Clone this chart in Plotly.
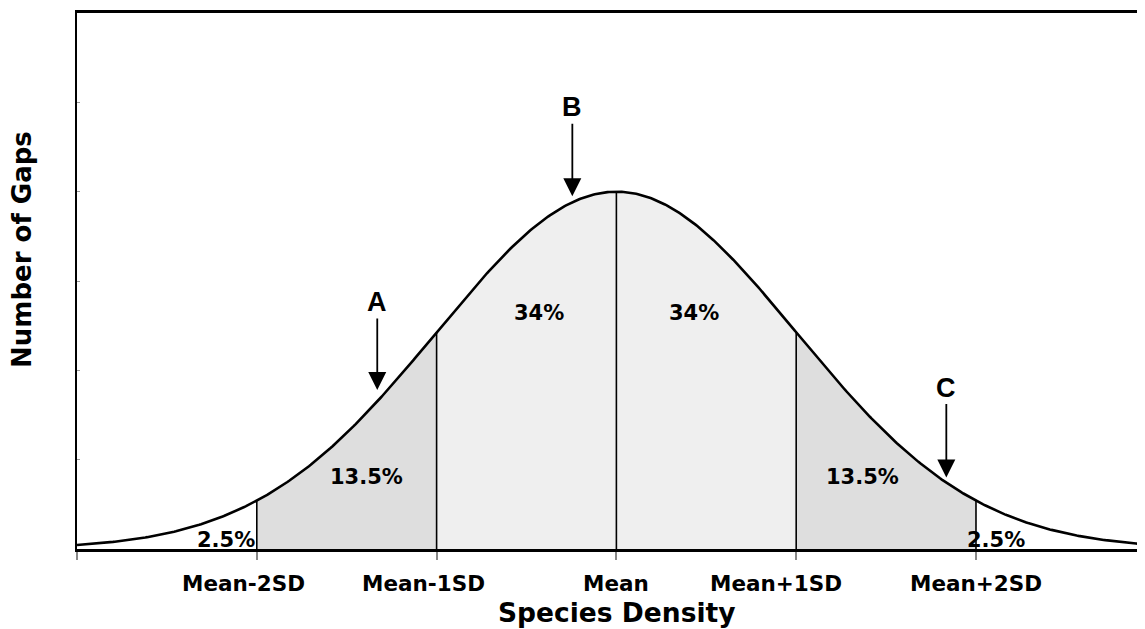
import numpy as np
import plotly.graph_objects as go

# ---- data ----
peak_height = 4.0                     # curve peak in y-units (axis 0..6)
sd_marks = [-2, -1, 0, 1, 2]          # vertical divider lines
axis_ticks = [-3, -2, -1, 0, 1, 2]
tick_labels = ["Mean-2SD", "Mean-1SD", "Mean", "Mean+1SD", "Mean+2SD"]
tick_label_x = [-2, -1, 0, 1, 2]
tick_label_shift = [-13, -13, 0, -20, 0]
band_edges = [(-2, -1), (-1, 0), (0, 1), (1, 2)]
band_colors = ["#dedede", "#efefef", "#efefef", "#dedede"]
pct_text = ["2.5%", "13.5%", "34%", "34%", "13.5%", "2.5%"]
pct_x = [-2.17, -1.39, -0.43, 0.43, 1.37, 2.11]
pct_y = [0.10, 0.81, 2.64, 2.64, 0.81, 0.10]
arrow_labels = ["A", "B", "C"]
arrow_x = [-1.33, -0.245, 1.835]
arrow_tip_y = [1.78, 3.95, 0.80]
arrow_len = [-88, -89, -90]


def curve(x):
    return peak_height * np.exp(-np.asarray(x, dtype=float) ** 2 / 2)


xs = np.linspace(-3, 3, 601)
fig = go.Figure()

# shaded bands
for (a, b), col in zip(band_edges, band_colors):
    bx = np.linspace(a, b, 120)
    px = np.concatenate([[a], bx, [b]])
    py = np.concatenate([[0], curve(bx), [0]])
    fig.add_trace(go.Scatter(x=px, y=py, fill="toself", fillcolor=col,
                             line=dict(width=0), mode="lines",
                             hoverinfo="skip", showlegend=False))

# vertical dividers
for m in sd_marks:
    fig.add_trace(go.Scatter(x=[m, m], y=[0, float(curve(m))], mode="lines",
                             line=dict(color="black", width=1.6),
                             hoverinfo="skip", showlegend=False))

# curve
fig.add_trace(go.Scatter(x=xs, y=curve(xs), mode="lines",
                         line=dict(color="black", width=2.6),
                         showlegend=False))

ann = []
font_lbl = dict(family="DejaVu Sans", size=21, color="black", weight="bold")
for t, x, y in zip(pct_text, pct_x, pct_y):
    ann.append(dict(x=x, y=y, text=t, showarrow=False, font=font_lbl,
                    xanchor="center", yanchor="middle"))

for t, x, y, L in zip(arrow_labels, arrow_x, arrow_tip_y, arrow_len):
    ann.append(dict(x=x, y=y, text=t, showarrow=True, ax=0, ay=L,
                    arrowhead=2, arrowsize=2.0, arrowwidth=1.8,
                    arrowcolor="black", standoff=0,
                    font=dict(family="Liberation Sans", size=27,
                              color="black", weight="bold")))

for t, x, s in zip(tick_labels, tick_label_x, tick_label_shift):
    ann.append(dict(x=x, xref="x", y=0, yref="paper", yshift=-34, xshift=s,
                    text=t, showarrow=False, yanchor="middle",
                    font=dict(family="DejaVu Sans", size=21.5,
                              color="black", weight="bold")))

ann.append(dict(x=0, xref="x", y=0, yref="paper", yshift=-63,
                text="Species Density", showarrow=False, yanchor="middle",
                font=dict(family="DejaVu Sans", size=26.5, color="black",
                          weight="bold")))
ann.append(dict(x=0, xref="paper", xshift=-55, y=0.558, yref="paper",
                text="Number of Gaps", showarrow=False, textangle=-90,
                xanchor="center", yanchor="middle",
                font=dict(family="DejaVu Sans", size=26, color="black",
                          weight="bold")))

fig.update_layout(
    width=1137, height=621,
    margin=dict(l=69, r=0, t=5, b=80),
    paper_bgcolor="white", plot_bgcolor="white",
    annotations=ann,
    xaxis=dict(range=[-3, 2.94], showgrid=False, zeroline=False,
               showline=True, linecolor="black", linewidth=2.5, mirror=True,
               tickvals=axis_ticks, ticktext=[""] * len(axis_ticks),
               ticks="outside", ticklen=8, tickwidth=1.5, tickcolor="#888888"),
    yaxis=dict(range=[0, 6], showgrid=False, zeroline=False,
               showline=True, linecolor="black", linewidth=2.2,
               tickvals=[0, 1, 2, 3, 4, 5, 6], showticklabels=False,
               ticks="inside", ticklen=3, tickwidth=1, tickcolor="#999999"),
)

fig.write_html("out.html")
